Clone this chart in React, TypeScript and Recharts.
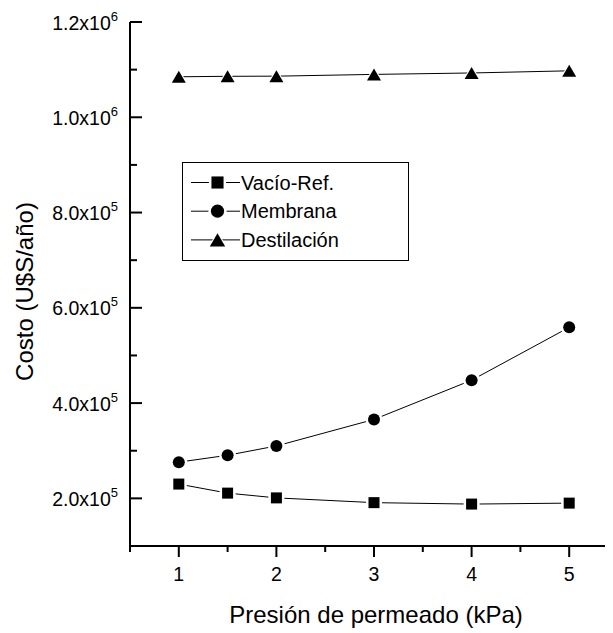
import React from 'react';
import { LineChart, Line, XAxis, YAxis } from 'recharts';

const pressures = [1, 1.5, 2, 3, 4, 5];
const vacioRef = [230000, 211000, 201000, 191000, 188000, 190000];
const membrana = [276000, 290500, 310000, 365700, 448000, 559000];
const destilacion = [1085000, 1086000, 1086300, 1090000, 1093000, 1097500];

const xTicks = [0.5, 1, 1.5, 2, 2.5, 3, 3.5, 4, 4.5, 5, 5.5];
const yTicks = [100000, 200000, 300000, 400000, 500000, 600000, 700000, 800000, 900000, 1000000, 1100000, 1200000];

const series = [
  { key: 'vacio', name: 'Vacío-Ref.', shape: 'square' },
  { key: 'membrana', name: 'Membrana', shape: 'circle' },
  { key: 'destilacion', name: 'Destilación', shape: 'triangle' },
];

const data = pressures.map((p, i) => ({
  p,
  vacio: vacioRef[i],
  membrana: membrana[i],
  destilacion: destilacion[i],
}));

const FONT = '"Liberation Sans", Arial, sans-serif';

// marker drawn twice: a white halo first so the line stops short of it
const Marker = ({ cx, cy, shape, scale = 1 }: any) => {
  const draw = (fill: string, grow: number) => {
    if (shape === 'square') {
      const h = 5.5 * scale + grow;
      return <rect x={cx - h} y={cy - h} width={h * 2} height={h * 2} fill={fill} />;
    }
    if (shape === 'circle') {
      return <circle cx={cx} cy={cy} r={6 * scale + grow} fill={fill} />;
    }
    const w = 7 * scale + grow;
    const h = 6 * scale + grow;
    return <polygon points={`${cx},${cy - h} ${cx + w},${cy + h} ${cx - w},${cy + h}`} fill={fill} />;
  };
  return (
    <g>
      {draw('#fff', 2.5)}
      {draw('#000', 0)}
    </g>
  );
};

const YTick = ({ x, y, payload }: any) => {
  const v = payload.value;
  const major = Math.round(v / 100000) % 2 === 0;
  const exp = Math.floor(Math.log10(v));
  const mant = (v / Math.pow(10, exp)).toFixed(1);
  return (
    <g>
      <line x1={x} y1={y} x2={x + (major ? 12 : 7)} y2={y} stroke="#000" strokeWidth={2} />
      {major && (
        <text x={x - 12} y={y + 7.5} textAnchor="end" fontFamily={FONT} fontSize={19.5} fill="#000">
          {mant}x10
          <tspan fontSize={13} dy={-9}>{exp}</tspan>
        </text>
      )}
    </g>
  );
};

const XTick = ({ x, y, payload }: any) => {
  const v = payload.value;
  const major = Number.isInteger(v);
  return (
    <g>
      <line x1={x} y1={y} x2={x} y2={y + (major ? 11 : 6)} stroke="#000" strokeWidth={2} />
      {major && (
        <text x={x} y={y + 34.5} textAnchor="middle" fontFamily={FONT} fontSize={19.5} fill="#000">
          {v}
        </text>
      )}
    </g>
  );
};

const LegendBox = () => (
  <svg width={228} height={100} style={{ display: 'block' }}>
    <rect x={0.5} y={0.5} width={226} height={98} fill="#fff" stroke="#000" strokeWidth={1} />
    {series.map((s, i) => {
      const cy = 20.5 + i * 28.7;
      return (
        <g key={s.key}>
          <line x1={9} y1={cy} x2={58} y2={cy} stroke="#000" strokeWidth={1} />
          <Marker cx={35.5} cy={cy} shape={s.shape} scale={1.1} />
          <text x={59} y={cy + 7} fontFamily={FONT} fontSize={20} fill="#000">
            {s.name}
          </text>
        </g>
      );
    })}
  </svg>
);

export default function App() {
  return (
    <div style={{ position: 'relative', width: 605, height: 625, overflow: 'hidden' }}>
      <style>{'body{overflow:hidden}'}</style>
      <LineChart width={620} height={625} data={data} margin={{ top: 14, right: 10, bottom: 0, left: 0 }}>
        <XAxis
          dataKey="p"
          type="number"
          domain={[0.5, 5.5]}
          ticks={xTicks}
          interval={0}
          tickSize={0}
          tickMargin={0}
          tickLine={false}
          axisLine={{ stroke: '#000', strokeWidth: 2 }}
          tick={<XTick />}
          height={87}
          label={{
            content: () => (
              <text x={368} y={614.7} textAnchor="middle" fontFamily={FONT} fontSize={24} fill="#000">
                Presión de permeado (kPa)
              </text>
            ),
          }}
        />
        <YAxis
          type="number"
          domain={[100000, 1200000]}
          ticks={yTicks}
          interval={0}
          tickSize={0}
          tickMargin={0}
          tickLine={false}
          axisLine={{ stroke: '#000', strokeWidth: 2 }}
          tick={<YTick />}
          width={122}
          label={{
            content: () => (
              <text
                x={24.5}
                y={283.5}
                textAnchor="middle"
                fontFamily={FONT}
                fontSize={24}
                fill="#000"
                transform="rotate(-90 24.5 283.5)"
              >
                Costo (U$S/año)
              </text>
            ),
          }}
        />
        {series.map((s) => (
          <Line
            key={s.key}
            dataKey={s.key}
            name={s.name}
            stroke="#000"
            strokeWidth={1}
            isAnimationActive={false}
            dot={(props: any) => <Marker key={`${s.key}-${props.index}`} cx={props.cx} cy={props.cy} shape={s.shape} />}
            activeDot={false}
          />
        ))}
      </LineChart>
      <div style={{ position: 'absolute', left: 174, top: 154 }}>
        <LegendBox />
      </div>
    </div>
  );
}
